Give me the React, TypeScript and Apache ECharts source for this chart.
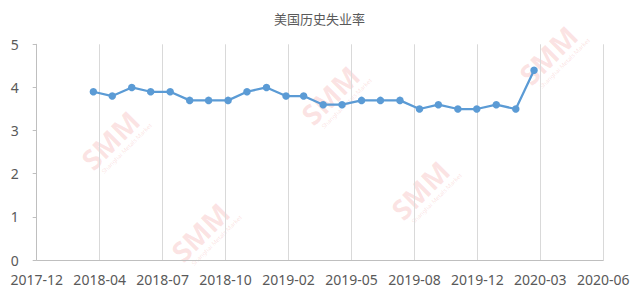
import React, { useEffect, useRef } from "react";
import * as echarts from "echarts";

const titleText = "美国历史失业率";
const tickLabels = ["2017-12", "2018-04", "2018-07", "2018-10", "2019-02", "2019-05", "2019-08", "2019-12", "2020-03", "2020-06"];
const tickStepDays = 100;
const axisOrigin = [2018, 1, 1];
const months = [
  "2018-04", "2018-05", "2018-06", "2018-07", "2018-08", "2018-09", "2018-10", "2018-11", "2018-12",
  "2019-01", "2019-02", "2019-03", "2019-04", "2019-05", "2019-06", "2019-07", "2019-08", "2019-09",
  "2019-10", "2019-11", "2019-12", "2020-01", "2020-02", "2020-03",
];
const rates = [3.9, 3.8, 4.0, 3.9, 3.9, 3.7, 3.7, 3.7, 3.9, 4.0, 3.8, 3.8, 3.6, 3.6, 3.7, 3.7, 3.7, 3.5, 3.6, 3.5, 3.5, 3.6, 3.5, 4.4];
const watermarkSpots = [
  [110, 140], [330, 95], [548, 55], [200, 232], [420, 190],
];

const DAY = 86400000;
const originMs = Date.UTC(axisOrigin[0], axisOrigin[1] - 1, axisOrigin[2]);
const dayOffset = (m: string) => {
  const [y, mo] = m.split("-").map(Number);
  return (Date.UTC(y, mo - 1, 1) - originMs) / DAY;
};

export default function App() {
  const ref = useRef<HTMLDivElement>(null);
  useEffect(() => {
    if (!ref.current) return;
    const chart = echarts.init(ref.current, undefined, { renderer: "svg" });
    const gray = "#595959";
    const font = "'Noto Sans', 'Noto Sans CJK SC', sans-serif";
    const watermarks = watermarkSpots.map(([x, y]) => ({
      type: "group",
      x,
      y,
      rotation: Math.PI / 4,
      silent: true,
      z: -10,
      children: [
        {
          type: "text",
          style: {
            text: "SMM",
            x: 0,
            y: 0,
            fill: "rgba(238,110,110,0.2)",
            font: "bold 28px 'Noto Sans', sans-serif",
            align: "center",
            verticalAlign: "middle",
          },
        },
        {
          type: "text",
          style: {
            text: "Shanghai Metals Market",
            x: 6,
            y: 18,
            fill: "rgba(238,110,110,0.2)",
            font: "6px 'Noto Sans', sans-serif",
            align: "center",
            verticalAlign: "middle",
          },
        },
      ],
    }));
    chart.setOption({
      animation: false,
      backgroundColor: "#ffffff",
      title: {
        text: titleText,
        left: "center",
        top: 7,
        textStyle: { color: gray, fontSize: 13, fontWeight: "normal", fontFamily: "'Noto Sans CJK SC', sans-serif" },
      },
      grid: { left: 36.7, right: 35.7, top: 44.3, bottom: 30, containLabel: false },
      xAxis: {
        type: "value",
        min: 0,
        max: tickStepDays * (tickLabels.length - 1),
        interval: tickStepDays,
        axisLine: { show: true, lineStyle: { color: "#bfbfbf", width: 1 } },
        axisTick: { show: false },
        splitLine: { show: true, lineStyle: { color: "#d9d9d9", width: 1 } },
        axisLabel: {
          showMinLabel: true,
          showMaxLabel: true,
          margin: 12,
          color: gray,
          fontSize: 14,
          fontFamily: font,
          formatter: (v: number) => tickLabels[Math.round(v / tickStepDays)] ?? "",
        },
      },
      yAxis: {
        type: "value",
        min: 0,
        max: 5,
        interval: 1,
        axisLine: { show: true, lineStyle: { color: "#bfbfbf", width: 1 } },
        axisTick: { show: true, length: 4, lineStyle: { color: "#bfbfbf" } },
        splitLine: { show: false },
        axisLabel: { margin: 18, color: gray, fontSize: 14, fontFamily: font },
      },
      graphic: watermarks,
      series: [
        {
          type: "line",
          data: months.map((m, i) => [dayOffset(m), rates[i]]),
          symbol: "circle",
          symbolSize: 7.5,
          lineStyle: { color: "#5b9bd5", width: 2.25 },
          itemStyle: { color: "#5b9bd5" },
          z: 5,
        },
      ],
    });
    return () => chart.dispose();
  }, []);
  return <div ref={ref} style={{ position: "fixed", left: 0, top: 0, width: 639, height: 290 }} />;
}
